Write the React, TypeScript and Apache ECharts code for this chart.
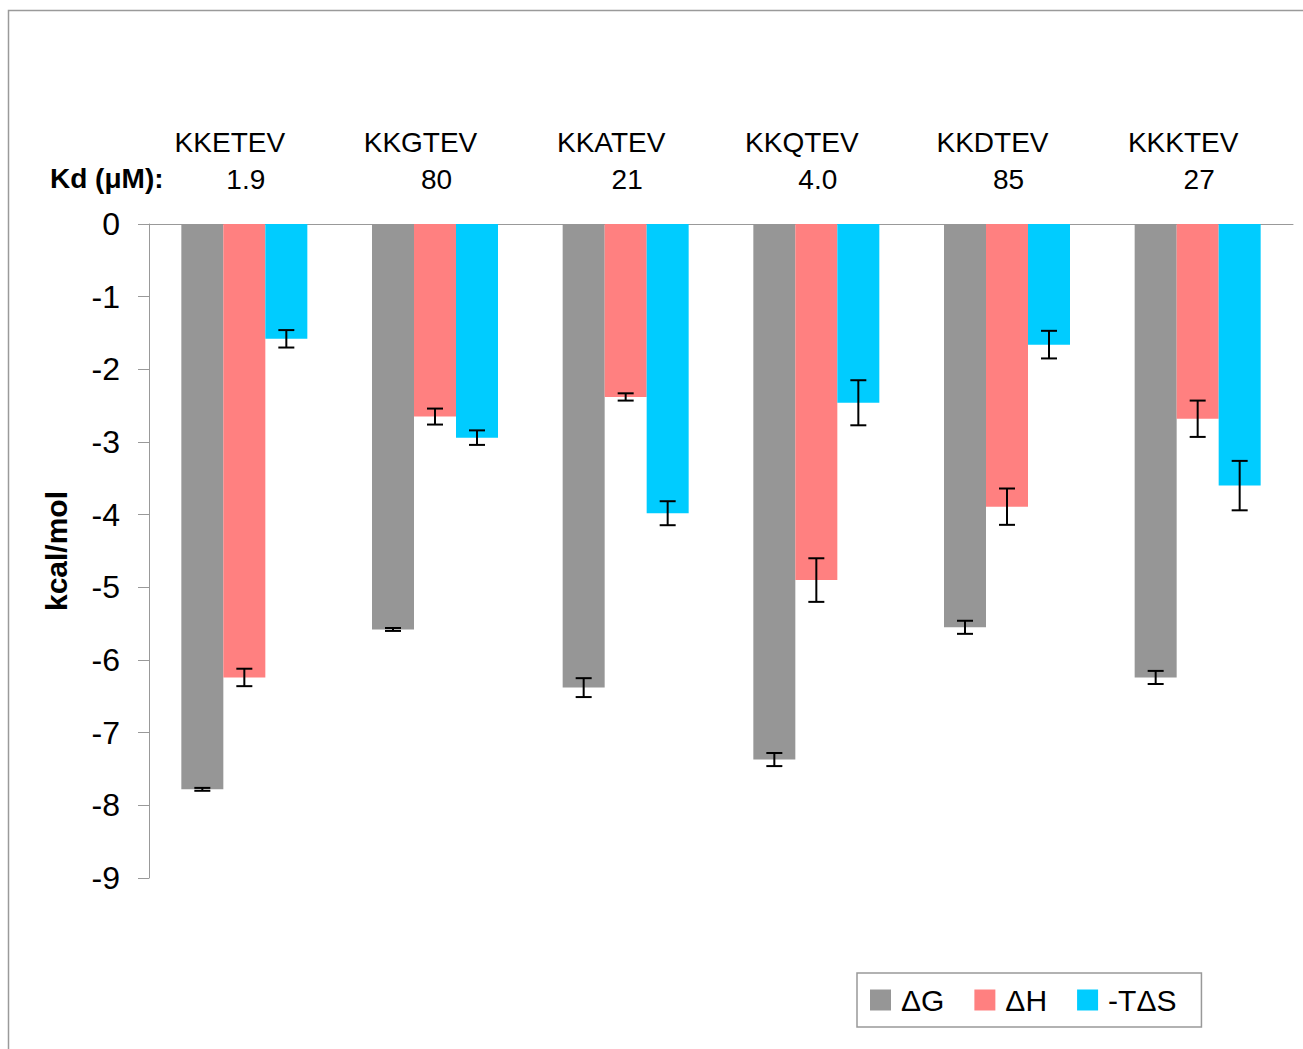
import React, { useEffect, useRef } from "react";
import * as echarts from "echarts";

// Peptide variants and their dissociation constants
const categories = ["KKETEV", "KKGTEV", "KKATEV", "KKQTEV", "KKDTEV", "KKKTEV"];
const kdValues = ["1.9", "80", "21", "4.0", "85", "27"];
const kdLabel = "Kd (μM):";

// Thermodynamic parameters (kcal/mol) and their errors
const seriesNames = ["ΔG", "ΔH", "-TΔS"];
const dG = [-7.78, -5.58, -6.38, -7.37, -5.55, -6.24];
const dGErr = [0.02, 0.02, 0.13, 0.09, 0.09, 0.09];
const dH = [-6.24, -2.65, -2.38, -4.9, -3.89, -2.68];
const dHErr = [0.12, 0.11, 0.05, 0.3, 0.25, 0.25];
const tdS = [-1.58, -2.94, -3.98, -2.46, -1.66, -3.6];
const tdSErr = [0.12, 0.1, 0.165, 0.31, 0.19, 0.34];

const colors = ["#969696", "#FF8080", "#00CCFF"];
const yTicks = { min: -9, max: 0, interval: 1 };
const axisName = "kcal/mol";

const FONT = "Liberation Sans, Arial, Helvetica, sans-serif";
const BAR_W = 42;

export default function App() {
  const ref = useRef<HTMLDivElement>(null);

  useEffect(() => {
    if (!ref.current) return;
    const chart = echarts.init(ref.current, null, { renderer: "svg" });

    const values = [dG, dH, tdS];
    const errors = [dGErr, dHErr, tdSErr];

    const barSeries = seriesNames.map((name, k) => ({
      name,
      type: "bar",
      data: values[k],
      barWidth: BAR_W,
      barGap: "0%",
      itemStyle: { color: colors[k] },
      z: 2,
    }));

    const errSeries = seriesNames.map((name, k) => ({
      name: name + " error",
      type: "custom",
      z: 5,
      data: values[k].map((v, i) => [i, v - errors[k][i], v + errors[k][i]]),
      encode: { x: 0, y: [1, 2] },
      renderItem: (params: any, api: any) => {
        const idx = api.value(0);
        const lo = api.coord([idx, api.value(1)]);
        const hi = api.coord([idx, api.value(2)]);
        const x = lo[0] + (k - 1) * BAR_W;
        const cap = 8;
        const style = { stroke: "#000", lineWidth: 2 };
        return {
          type: "group",
          children: [
            { type: "line", shape: { x1: x, y1: lo[1], x2: x, y2: hi[1] }, style },
            { type: "line", shape: { x1: x - cap, y1: lo[1], x2: x + cap, y2: lo[1] }, style },
            { type: "line", shape: { x1: x - cap, y1: hi[1], x2: x + cap, y2: hi[1] }, style },
          ],
        };
      },
    }));

    chart.setOption({
      animation: false,
      backgroundColor: "#fff",
      textStyle: { fontFamily: FONT },
      grid: { left: 149, right: 10, top: 224, bottom: 171, containLabel: false },
      legend: {
        data: seriesNames,
        left: 857,
        top: 973,
        padding: [12, 25, 12, 13],
        itemGap: 30,
        itemWidth: 21,
        itemHeight: 21,
        borderColor: "#999",
        borderWidth: 1.5,
        borderRadius: 0,
        icon: "rect",
        textStyle: { fontSize: 30, color: "#000", fontFamily: FONT, padding: [0, 0, 0, 5], lineHeight: 30 },
      },
      xAxis: {
        type: "category",
        position: "top",
        data: categories,
        axisLine: { lineStyle: { color: "#999", width: 1 } },
        axisTick: { inside: true, length: 8, lineStyle: { color: "#999" } },
        axisLabel: {
          interval: 0,
          margin: 26,
          formatter: (v: string, i: number) => `{n|${v}}\n{k|${kdValues[i]}}`,
          rich: {
            n: { fontSize: 28, fontFamily: FONT, color: "#000", lineHeight: 37, align: "center", padding: [0, 29, 0, 0] },
            k: { fontSize: 28, fontFamily: FONT, color: "#000", lineHeight: 37, align: "center", padding: [0, 0, 0, 3] },
          },
        },
      },
      yAxis: {
        type: "value",
        min: yTicks.min,
        max: yTicks.max,
        interval: yTicks.interval,
        name: axisName,
        nameLocation: "middle",
        nameGap: 78,
        nameRotate: 90,
        nameTextStyle: { fontSize: 30, fontWeight: "bold", color: "#000", fontFamily: FONT },
        axisLine: { show: true, lineStyle: { color: "#999", width: 1 } },
        axisTick: { show: true, length: 11, lineStyle: { color: "#999" } },
        axisLabel: { fontSize: 32, color: "#000", margin: 29, fontFamily: FONT },
        splitLine: { show: false },
      },
      graphic: [
        {
          type: "rect",
          silent: true,
          shape: { x: 8.5, y: 10.5, width: 1400, height: 1200 },
          style: { fill: "none", stroke: "#9a9a9a", lineWidth: 1.5 },
          z: -10,
        },
        {
          type: "text",
          left: 50,
          top: 164,
          style: { text: kdLabel, fontSize: 28, fontWeight: "bold", fill: "#000", fontFamily: FONT },
        },
      ],
      series: [...barSeries, ...errSeries],
    });

    return () => chart.dispose();
  }, []);

  return (
    <div
      ref={ref}
      style={{ position: "fixed", left: 0, top: 0, width: 1303, height: 1049 }}
    />
  );
}
